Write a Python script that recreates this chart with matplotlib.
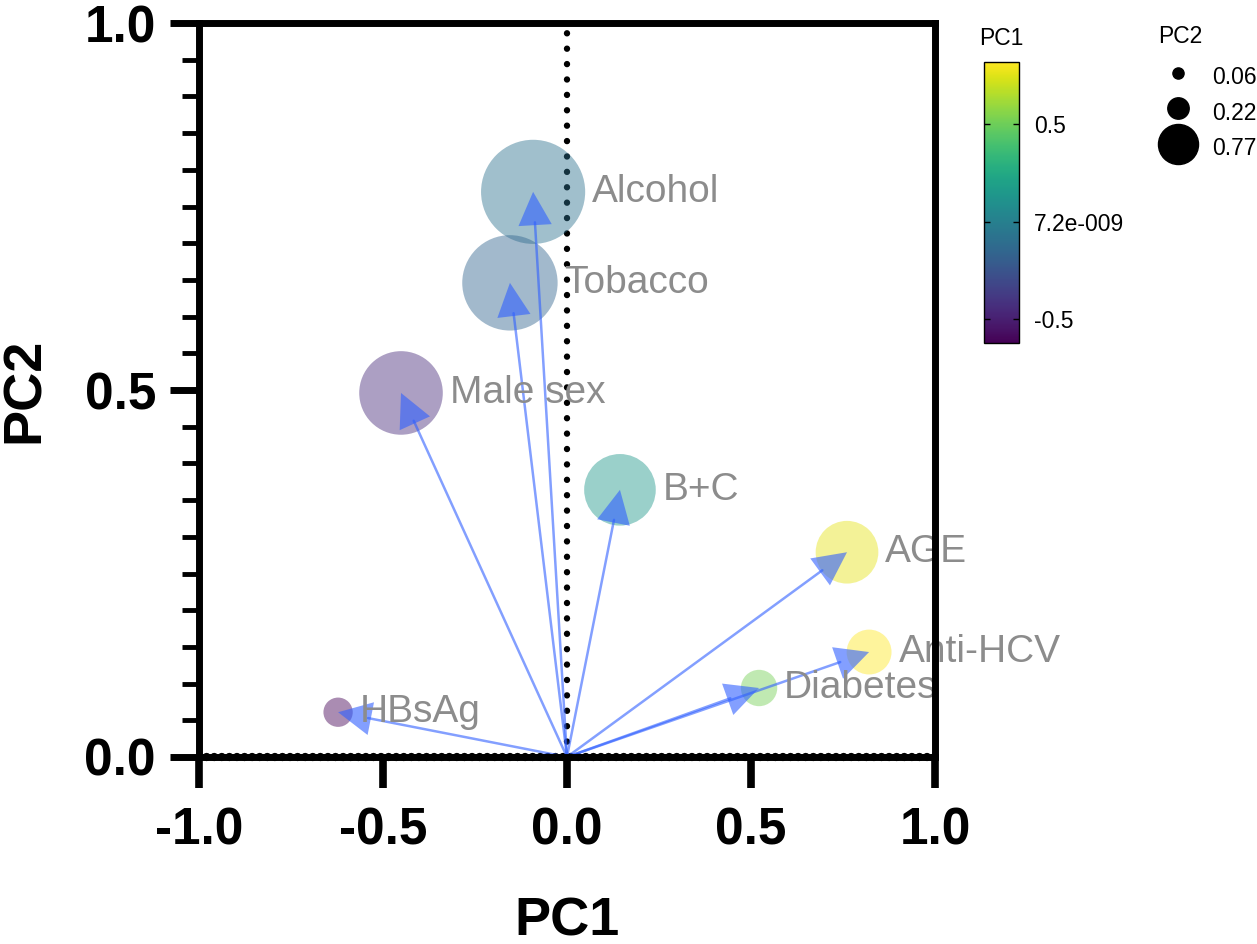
import matplotlib
matplotlib.use("Agg")
import numpy as np
from matplotlib import pyplot as plt
from matplotlib.colors import Normalize
from matplotlib.cm import ScalarMappable
from matplotlib.lines import Line2D
from matplotlib.ticker import MultipleLocator

plt.rcParams['font.family'] = ['Liberation Sans', 'DejaVu Sans']

labels = ["Alcohol", "Tobacco", "Male sex", "B+C", "AGE", "Anti-HCV", "Diabetes", "HBsAg"]
pc1 = [-0.092, -0.155, -0.451, 0.144, 0.761, 0.821, 0.522, -0.622]
pc2 = [0.770, 0.646, 0.496, 0.364, 0.279, 0.143, 0.094, 0.061]

size_legend_values = [0.06, 0.22, 0.77]
cbar_ticks = [-0.5, 0.0, 0.5]
cbar_ticklabels = ["-0.5", "7.2e-009", "0.5"]

fig = plt.figure(figsize=(12.57, 9.44), dpi=100)
ax = fig.add_axes([0.1583, 0.1981, 0.5855, 0.7775])

norm = Normalize(vmin=min(pc1), vmax=max(pc1))
cmap = plt.get_cmap("viridis")
sizes = np.array(pc2) * 7300
arrow_col = "#3060ff"
head_len = 1.2
scale = 20

ax.axvline(0, color="black", lw=4.6, linestyle=(0, (0.01, 2.4)),
           dash_capstyle="round", zorder=1)
ax.axhline(0, color="black", lw=6, linestyle=(0, (0.01, 0.9)),
           dash_capstyle="round", zorder=1, clip_on=False)

ax.scatter(pc1, pc2, s=sizes, c=pc1, cmap=cmap, norm=norm, alpha=0.45,
           edgecolors="none", zorder=2)

for x, y, s, lab in zip(pc1, pc2, sizes, labels):
    # shaft
    ax.annotate("", xy=(x, y), xytext=(0, 0),
                arrowprops=dict(arrowstyle="-", color=arrow_col, alpha=0.6,
                                lw=1.8, shrinkA=0, shrinkB=head_len * scale - 2),
                zorder=3)
    # head
    ax.annotate("", xy=(x, y), xytext=(0, 0),
                arrowprops=dict(arrowstyle=f"-|>,head_length={head_len},head_width=0.6",
                                mutation_scale=scale, color=arrow_col, alpha=0.6,
                                lw=0, shrinkA=0, shrinkB=0),
                zorder=3)
    ax.annotate(lab, xy=(x, y), xytext=(np.sqrt(s) / 2 + 5, 0),
                textcoords="offset points", va="center", ha="left",
                fontsize=28, color="#8c8c8c", zorder=4)

ax.set_xlim(-1, 1)
ax.set_ylim(0, 1)
ax.set_xticks([-1.0, -0.5, 0.0, 0.5, 1.0])
ax.set_yticks([0.0, 0.5, 1.0])
ax.yaxis.set_minor_locator(MultipleLocator(0.05))
ax.set_xticklabels(["-1.0", "-0.5", "0.0", "0.5", "1.0"])
ax.set_yticklabels(["0.0", "0.5", "1.0"])
for lab in ax.get_xticklabels() + ax.get_yticklabels():
    lab.set_fontweight("bold")
    lab.set_fontsize(37)
ax.tick_params(axis="x", which="major", length=22, width=5.5, pad=14)
ax.tick_params(axis="y", which="major", length=21, width=5, pad=10)
ax.tick_params(axis="y", which="minor", length=12, width=3.5)
for sp in ax.spines.values():
    sp.set_linewidth(5)
    sp.set_zorder(10)

ax.set_xlabel("PC1", fontsize=39, fontweight="bold", labelpad=29)
ax.set_ylabel("PC2", fontsize=39, fontweight="bold", labelpad=25)

# colour bar for PC1
cax = fig.add_axes([0.7828, 0.6367, 0.0278, 0.2977])
cb = fig.colorbar(ScalarMappable(norm=norm, cmap=cmap), cax=cax)
cb.set_ticks(cbar_ticks)
cb.set_ticklabels(cbar_ticklabels)
cb.outline.set_linewidth(1)
cax.tick_params(direction="in", length=4, width=1, labelsize=16.5,
                left=True, right=True, pad=11)
cax.set_title("PC1", fontsize=16.5, pad=12)

# size legend for PC2
handles = [Line2D([], [], linestyle="none", marker="o", color="black",
                  markersize=np.sqrt(v * 1080)) for v in size_legend_values]
leg = fig.legend(handles, [f"{v:.2f}" for v in size_legend_values],
                 loc="upper left", bbox_to_anchor=(0.919, 0.939), frameon=False,
                 fontsize=16.5, handlelength=1.6, handletextpad=0.7,
                 handleheight=1.6, labelspacing=0.25, borderpad=0.2,
                 borderaxespad=0)
fig.text(0.921, 0.961, "PC2", fontsize=16.5, ha="left", va="center")

fig.savefig("out.png", dpi=100)
